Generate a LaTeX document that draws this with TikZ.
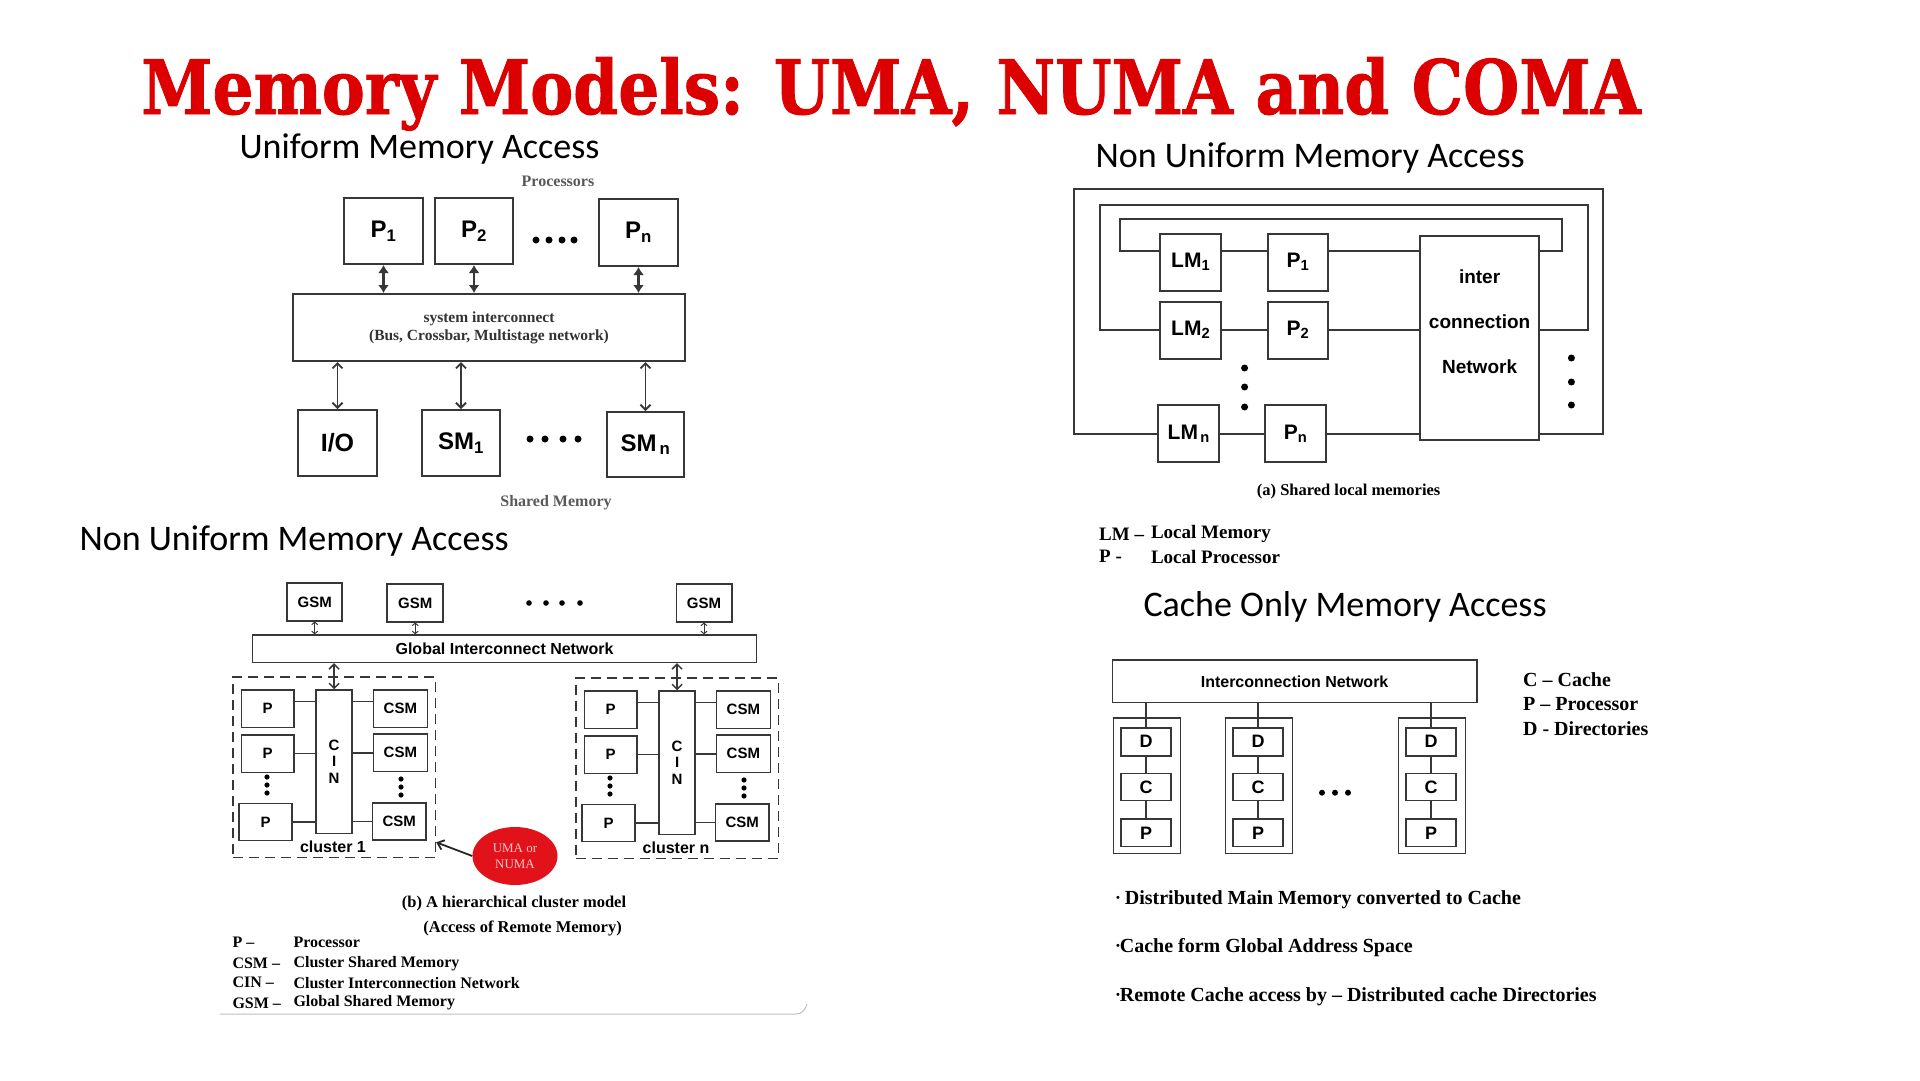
\documentclass[tikz,border=0pt]{standalone}
\usepackage{fontspec}
\usepackage{xcolor}
\setmainfont{Liberation Serif}
\newfontfamily\arialf{Liberation Sans}
\newfontfamily\calibf{Carlito}
\newfontfamily\slabf[BoldFeatures={FakeBold=1.2}]{DejaVu Serif}
\usetikzlibrary{arrows.meta,shapes.geometric,positioning}
\definecolor{titlered}{RGB}{221,0,0}
\definecolor{inkgray}{RGB}{55,55,55}
\definecolor{umared}{RGB}{226,18,26}
\definecolor{umatext}{RGB}{250,200,200}
\newcommand{\fsz}[2]{\fontsize{#1}{#2}\selectfont}
\newcommand{\bul}{\raisebox{2.5pt}{\fsz{11}{11}•}}

\begin{document}
\begin{tikzpicture}[x=1pt,y=-1pt,
  sz/.style 2 args={minimum width=#1pt,minimum height=#2pt},
  blk/.style={draw=inkgray,line width=2pt,inner sep=0pt,font=\arialf\bfseries\fsz{24}{24}},
  lmblk/.style={blk,font=\arialf\bfseries\fsz{21}{21}},
  sblk/.style={blk,line width=1.5pt,font=\arialf\bfseries\fsz{15}{15}},
  cblk/.style={blk,line width=1.6pt,font=\arialf\bfseries\fsz{18}{18}},
  clu/.style={draw=inkgray,line width=1.5pt,dash pattern=on 10pt off 6pt},
  wire/.style={draw=inkgray,line width=1.8pt},
  swire/.style={draw=inkgray,line width=1.4pt},
  dbl/.style={inkgray,line width=2.6pt,{Latex[length=8pt,width=11pt]}-{Latex[length=8pt,width=11pt]}},
  barb/.style={inkgray,line width=1.8pt,{Straight Barb[length=5pt,width=10pt]}-{Straight Barb[length=5pt,width=10pt]}},
  tinybarb/.style={inkgray,line width=1pt,{Straight Barb[length=2.5pt,width=6pt]}-{Straight Barb[length=2.5pt,width=6pt]}},
  head/.style={anchor=base west,font=\calibf\fsz{36}{40}},
  lab/.style={font=\bfseries\fsz{16}{18},text=black!65},
  capt/.style={font=\bfseries\fsz{16.5}{20}},
  key/.style={anchor=west,font=\bfseries\fsz{19}{22}},
  skey/.style={anchor=west,font=\bfseries\fsz{16}{18}},
  ckey/.style={anchor=west,font=\bfseries\fsz{20}{24}}]
\useasboundingbox (0,0) rectangle (1920,1080);
\fill[white] (0,0) rectangle (1920,1080);

\node[anchor=base west,inner sep=0pt,text=titlered,font=\slabf\bfseries\fsz{75}{80}] (title) at (141,114) {\scalebox{0.86}[1]{Memory Models: UMA, NUMA and COMA}};
\node[head] (hUMA) at (236,158) {Uniform Memory Access};
\node[head] (hNUMAa) at (1092,167) {Non Uniform Memory Access};
\node[head] (hNUMAb) at (76,550) {Non Uniform Memory Access};
\node[head] (hCOMA) at (1140,616) {Cache Only Memory Access};

\node[lab] (procs) at (558,181) {Processors};
\node[blk,sz={79}{66}] (P1) at (383.5,231) {P\textsubscript{1}};
\node[blk,sz={78}{66}] (P2) at (474,231) {P\textsubscript{2}};
\node[blk,sz={79}{67}] (Pn) at (638.5,232.5) {P\textsubscript{n}};
\foreach \x in {536,549,562,574} \fill (\x,240) circle (3.5);
\node[blk,sz={392}{67},font=\bfseries\fsz{15.5}{18},text=black!80,align=center] (sys) at (489,327.5) {system interconnect\\(Bus, Crossbar, Multistage network)};
\foreach \p in {P1,P2,Pn} \draw[dbl] (\p.south) -- (\p.south |- sys.north);
\node[blk,sz={79}{66},font=\arialf\bfseries\fsz{25}{25}] (IO) at (337.5,443) {I/O};
\node[blk,sz={78}{66}] (SM1) at (461,443) {SM\textsubscript{1}};
\node[blk,sz={77}{65}] (SMn) at (645.5,444.5) {SM\textsubscript{\,n}};
\foreach \m in {IO,SM1,SMn} \draw[barb] (\m.north) -- (\m.north |- sys.south);
\foreach \x in {530,545,563,578} \fill (\x,439) circle (3.5);
\node[lab] (shmem) at (556,503) {Shared Memory};

\node[lmblk,sz={61}{57}] (LM1) at (1190.7,262) {LM\textsubscript{1}};
\node[lmblk,sz={60}{57}] (LP1) at (1298,262) {P\textsubscript{1}};
\node[lmblk,sz={61}{57}] (LM2) at (1190.7,330) {LM\textsubscript{2}};
\node[lmblk,sz={60}{57}] (LP2) at (1298,330) {P\textsubscript{2}};
\node[lmblk,sz={61}{57}] (LMn) at (1188.8,433.8) {LM\textsubscript{\,n}};
\node[lmblk,sz={61}{57}] (LPn) at (1295.5,433.8) {P\textsubscript{n}};
\node[lmblk,sz={118.6}{204.3}] (net) at (1479.3,337.9) {};
\node[font=\arialf\bfseries\fsz{19}{45},align=center] (netlbl) at (1479.6,321.7) {inter\\connection\\Network};
\draw[wire] ([yshift=11pt]LM1.east) -- ([yshift=11pt]LP1.west);
\draw[wire] ([yshift=11pt]LP1.east) -- ([yshift=11pt]LP1.east -| net.west);
\draw[wire] (LM2.east) -- (LP2.west) (LP2.east) -- (LP2.east -| net.west);
\draw[wire] (LMn.east) -- (LPn.west) (LPn.east) -- (LPn.east -| net.west);
\draw[wire] ([yshift=11pt]LM1.west) -| (1120,219.3) -| (1561.8,251) -- ([yshift=11pt]LP1.east -| net.east);
\draw[wire] (LM2.west) -| (1100,205) -| (1588,330) -- (LM2.west -| net.east);
\draw[wire] (LMn.west) -| (1073.6,189.3) -| (1603,433.8) -- (LMn.west -| net.east);
\foreach \y in {368,387,407} \fill (1244.6,\y) circle (3.5);
\foreach \y in {358,382,405} \fill (1571.4,\y) circle (3.5);
\node[capt] (capa) at (1348.6,491.7) {(a) Shared local memories};
\node[key] (lmkey) at (1095.7,534) {LM –};
\node[key] (lmval) at (1147.5,534) {Local Memory};
\node[key] (pkey) at (1095.7,556.7) {P -};
\node[key] (pval) at (1147.5,556.7) {Local Processor};

\node[sblk,sz={55}{37.7}] (GSM1) at (314.7,601.9) {GSM};
\node[sblk,sz={56}{37.7}] (GSM2) at (415.2,602.9) {GSM};
\node[sblk,sz={55.5}{37.7}] (GSM3) at (704,602.9) {GSM};
\foreach \x in {529,546,562,580} \fill (\x,603) circle (2.8);
\node[sblk,sz={504}{27.3},font=\arialf\bfseries\fsz{16}{16}] (gin) at (504.5,648.7) {Global Interconnect Network};
\foreach \g in {GSM1,GSM2,GSM3} \draw[tinybarb] (\g.south) -- (\g.south |- gin.north);
\foreach \k/\dx/\dy/\nm in {1/0/0/1,2/343/1/n}{
  \node[clu,sz={202.5}{180.5}] (clu\k) at (334.2+\dx,767.3+\dy) {};
  \node[sblk,sz={36}{143.3},align=center,font=\arialf\bfseries\fsz{15}{16.5}] (cin\k) at (334.1+\dx,761.7+\dy) {C\\I\\N};
  \node[sblk,sz={52.5}{37.3}] (pa\k) at (267.5+\dx,708.7+\dy) {P};
  \node[sblk,sz={52.5}{37.3}] (pb\k) at (267.5+\dx,753.7+\dy) {P};
  \node[sblk,sz={53}{37.3}] (pc\k) at (265.5+\dx,822+\dy) {P};
  \node[sblk,sz={53.7}{37.3}] (ma\k) at (400.4+\dx,708.7+\dy) {CSM};
  \node[sblk,sz={53.7}{37.3}] (mb\k) at (400.4+\dx,752.8+\dy) {CSM};
  \node[sblk,sz={53.7}{37}] (mc\k) at (399.3+\dx,821.7+\dy) {CSM};
  \draw[swire] ([yshift=7pt]pa\k.east) -- ([yshift=7pt]pa\k.east -| cin\k.west);
  \draw[swire] (pb\k.east) -- (pb\k.east -| cin\k.west) (pc\k.east) -- (pc\k.east -| cin\k.west);
  \draw[swire] ([yshift=7pt]ma\k.west) -- ([yshift=7pt]ma\k.west -| cin\k.east);
  \draw[swire] (mb\k.west) -- (mb\k.west -| cin\k.east) (mc\k.west) -- (mc\k.west -| cin\k.east);
  \draw[barb,line width=1.5pt] (cin\k.north) -- (cin\k.north |- gin.south);
  \foreach \y in {777,785,793}{
    \fill (267+\dx,\y+\dy) circle (2.6);
    \fill (401+\dx,\y+2+\dy) circle (2.6);}
  \node[font=\arialf\bfseries\fsz{16}{16}] (clab\k) at (333+\dx,846.7+\dy) {cluster \nm};
}
\node[ellipse,fill=umared,sz={85}{58},inner sep=0pt,align=center,text=umatext,font=\fsz{13}{16}] (uma) at (515,856) {UMA or\\NUMA};
\draw[black!85,line width=1.8pt,-{Straight Barb[length=6pt,width=10pt]}] (uma.west) -- ([yshift=-75pt]clu1.east);
\node[capt] (capb) at (514,903.3) {(b) A hierarchical cluster model};
\node[capt] (capc) at (522.6,928.3) {(Access of Remote Memory)};
\foreach \y/\a/\b [count=\i] in {942.3/P –/Processor,963.3/CSM –/Cluster Shared Memory,982.7/CIN –/Cluster Interconnection Network,1003/GSM –/Global Shared Memory}{
  \node[skey] (ka\i) at (229,\y) {\a};
  \node[skey] (kb\i) at (290,\y) {\b};}
\draw[black!25,line width=1pt] (220,1014) -- (796,1014) .. controls (802,1014) and (805,1010) .. (807,1004);

\node[cblk,sz={364.3}{42.7},font=\arialf\bfseries\fsz{16}{16}] (inet) at (1294.6,681.3) {Interconnection Network};
\foreach \cx [count=\j] in {1146,1258,1431}{
  \node[cblk,sz={67}{135.6}] (col\j) at (\cx+1,785.5) {};
  \node[cblk,sz={50}{28}] (dir\j) at (\cx,741.7) {D};
  \node[cblk,sz={50}{27.3}] (cac\j) at (\cx,787) {C};
  \node[cblk,sz={50}{27.7}] (pro\j) at (\cx,832.8) {P};
  \draw[swire] (inet.south -| dir\j.north) -- (dir\j.north);
  \draw[swire] (dir\j) -- (cac\j) (cac\j) -- (pro\j);
}
\foreach \x in {1322,1335,1348} \fill (\x,792.7) circle (3);
\node[ckey] (ck1) at (1519.6,679.3) {C – Cache};
\node[ckey] (ck2) at (1519.6,704) {P – Processor};
\node[ckey] (ck3) at (1519.6,728.3) {D - Directories};
\node[ckey] (bul1) at (1112.5,899.3) {\bul{} Distributed Main Memory converted to Cache};
\node[ckey] (bul2) at (1112.5,947.3) {\bul{}Cache form Global Address Space};
\node[ckey] (bul3) at (1112.5,996.7) {\bul{}Remote Cache access by – Distributed cache Directories};
\end{tikzpicture}
\end{document}
